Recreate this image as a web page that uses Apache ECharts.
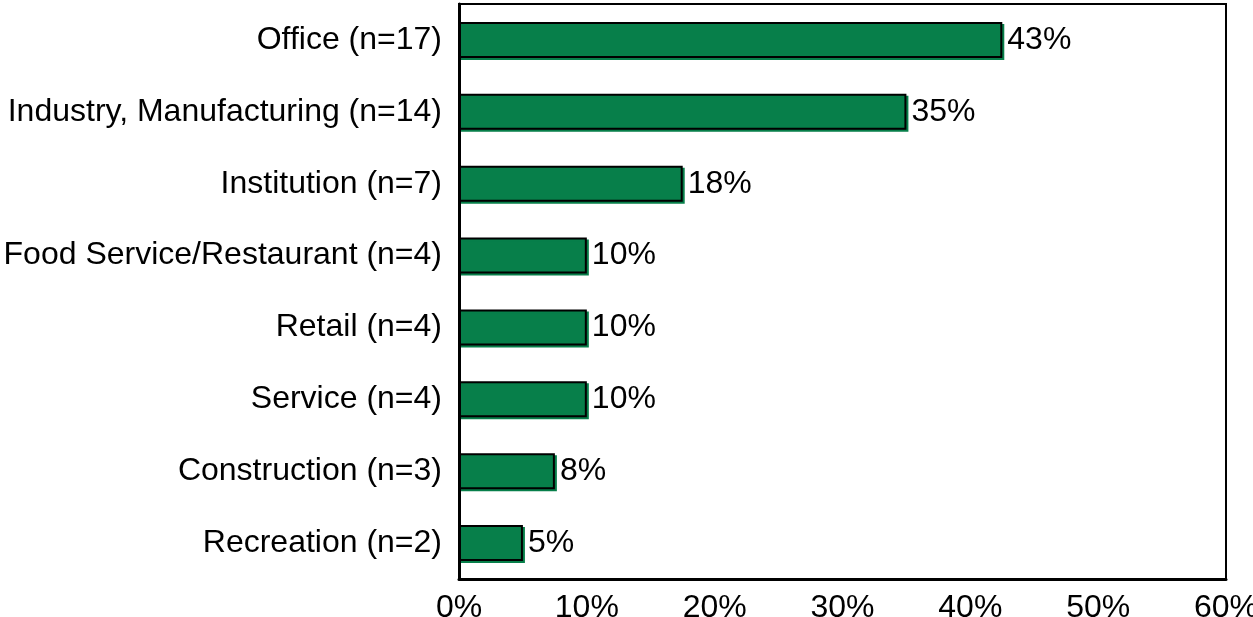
<!DOCTYPE html>
<html><head><meta charset="utf-8">
<script src="https://cdn.jsdelivr.net/npm/echarts@6/dist/echarts.min.js"></script>
<style>html,body{margin:0;padding:0;background:#fff}#c{width:1253px;height:617px}</style>
</head><body><div id="c"></div>
<script>
const categories = ['Office (n=17)','Industry, Manufacturing (n=14)','Institution (n=7)','Food Service/Restaurant (n=4)','Retail (n=4)','Service (n=4)','Construction (n=3)','Recreation (n=2)'];
const values = [42.5, 35, 17.5, 10, 10, 10, 7.5, 5];
const xTicks = [0, 10, 20, 30, 40, 50, 60];

const chart = echarts.init(document.getElementById('c'));
const font = 'Liberation Sans, Arial, sans-serif';
const fs = 32;
chart.setOption({
  animation: false,
  grid: {left: 459, right: 27, top: 4, bottom: 38, show: true, borderColor: '#000', borderWidth: 2,
    containLabel: false, outerBoundsMode: 'none'},
  xAxis: {
    type: 'value', min: xTicks[0], max: xTicks[xTicks.length-1], interval: 10,
    axisLine: {show: true, lineStyle: {color: '#000', width: 3}},
    axisTick: {show: false}, splitLine: {show: false},
    axisLabel: {color: '#000', fontSize: fs, fontFamily: font, margin: 13, formatter: v => v + '%'}
  },
  yAxis: {
    type: 'category', data: categories, inverse: true,
    axisLine: {show: true, lineStyle: {color: '#000', width: 3}},
    axisTick: {show: false},
    axisLabel: {color: '#000', fontSize: fs, fontFamily: font, margin: 17, padding: [3, 0, 0, 0]}
  },
  series: [{
    type: 'bar', data: values, barCategoryGap: '50%',
    itemStyle: {color: '#077F4A', borderColor: '#000', borderWidth: 2,
      shadowColor: '#077F4A', shadowOffsetX: 2, shadowOffsetY: 2, shadowBlur: 0},
    label: {show: true, position: 'right', distance: 5, color: '#000', fontSize: fs, fontFamily: font,
      padding: [3, 0, 0, 0], formatter: p => Math.round(p.value) + '%'}
  }]
});
</script></body></html>
